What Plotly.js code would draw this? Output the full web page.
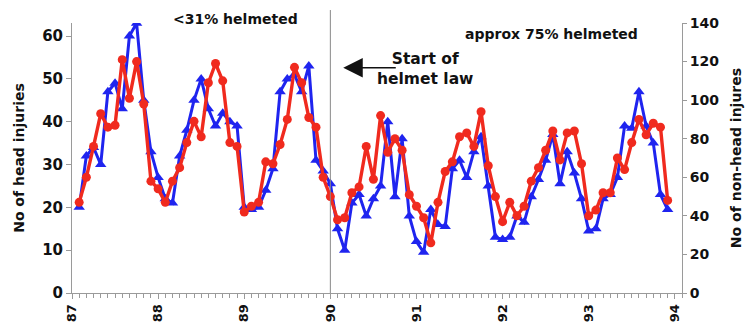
<!DOCTYPE html>
<html>
<head>
<meta charset="utf-8">
<script src="https://cdn.plot.ly/plotly-3.0.1.min.js"></script>
<style>
  html, body { margin: 0; padding: 0; background: #ffffff; }
  #chart { width: 750px; height: 327px; }
</style>
</head>
<body>
<div id="chart"></div>
<script>
// Month number counted from January 1987 (0 = start of 87)
const monthNumber = [1,2,3,4,5,6,7,8,9,10,11,12,13,14,15,16,17,18,19,20,21,22,23,24,25,26,27,28,29,30,
  31,32,33,34,35,36,37,38,39,40,41,42,43,44,45,46,47,48,49,50,51,52,53,54,55,56,57,58,59,60,
  61,62,63,64,65,66,67,68,69,70,71,72,73,74,75,76,77,78,79,80,81,82,83];

// Number of head injuries (left axis, blue triangles)
const headInjuries = [20,32,34,30,47,49,43,60,63,45,33,27,22,21,32,38,45,50,43,39,42,40,39,20,
  19.5,20,24,29,47,50,51,47,53,31,28.5,25.5,15,10,21,23,18,22,25,40,22.5,36,18,12,9.5,19.5,
  16,15.5,29,31,27,33,36.5,25,13,12.5,13,18,16.5,22.5,26.5,31,37,25.5,33,28,22,14.5,15,22,
  23,27,39,38.5,47,39,35,23,19.5];

// Number of non-head injuries (right axis, red circles)
const nonHeadInjuries = [47,60,76,93,86,87,121,101,120,98,58,54,47,58,65,78,89,81,109,119,110,78,76,42,
  45,47,68,67,77,90,117,109,91,86,60,50,38,39,52,55,76,59,92,73,80,74,51,45,39,26,
  47,63,68,81,83,76,94,66,50,37,47,40,45,58,65,74,84,69,83,84,67,40,43,52,52,70,64,78,
  90,82,88,86,48];

// Year tick labels
const yearTickPositions = [0,12,24,36,48,60,72,84];
const yearTickLabels = ['87','88','89','90','91','92','93','94'];
const helmetLawMonth = 36;

const leftTicks = [0,10,20,30,40,50,60];
const rightTicks = [0,20,40,60,80,100,120,140];

const FONT = 'DejaVu Sans, Liberation Sans, Arial, sans-serif';
const BLUE = '#1f24ef';
const RED = '#f02a1e';
const AXIS = '#9a9a9a';

const traces = [
  {
    x: monthNumber, y: headInjuries, type: 'scatter', mode: 'lines+markers',
    name: 'Head injuries', yaxis: 'y',
    line: {color: BLUE, width: 3},
    marker: {symbol: 'triangle-up', size: 10, color: BLUE},
    hoverinfo: 'skip'
  },
  {
    x: monthNumber, y: nonHeadInjuries, type: 'scatter', mode: 'lines+markers',
    name: 'Non-head injuries', yaxis: 'y2',
    line: {color: RED, width: 3.4},
    marker: {symbol: 'circle', size: 9, color: RED},
    hoverinfo: 'skip'
  }
];

const layout = {
  width: 750, height: 327,
  margin: {l: 72, r: 68, t: 23, b: 34, pad: 0},
  paper_bgcolor: '#ffffff', plot_bgcolor: '#ffffff',
  showlegend: false,
  font: {family: FONT, color: '#111111'},
  xaxis: {
    range: [0, 85], tickmode: 'array', tickvals: yearTickPositions, ticktext: yearTickLabels,
    tickangle: -90, ticks: 'outside', ticklen: 5, tickcolor: AXIS, tickwidth: 1,
    minor: {dtick: 1, tick0: 0, ticks: 'outside', ticklen: 4, tickcolor: AXIS, tickwidth: 1},
    showline: true, linecolor: AXIS, linewidth: 1, showgrid: false, zeroline: false,
    tickfont: {family: FONT, size: 13, weight: 'bold', color: '#111'}
  },
  yaxis: {
    range: [0, 63.05], tickmode: 'array', tickvals: leftTicks,
    ticks: 'outside', ticklen: 5, tickcolor: AXIS,
    showline: true, linecolor: AXIS, linewidth: 1, showgrid: false, zeroline: false,
    tickfont: {family: FONT, size: 15, weight: 'bold', color: '#111'},
    title: {text: 'No of head injuries', font: {family: FONT, size: 14, weight: 'bold', color: '#111'}, standoff: 14}
  },
  yaxis2: {
    range: [0, 140], tickmode: 'array', tickvals: rightTicks, overlaying: 'y', side: 'right',
    ticks: 'outside', ticklen: 4, tickcolor: AXIS,
    showline: true, linecolor: AXIS, linewidth: 1, showgrid: false, zeroline: false,
    tickfont: {family: FONT, size: 14, weight: 'bold', color: '#111'},
    title: {text: 'No of non-head injures', font: {family: FONT, size: 14, weight: 'bold', color: '#111'}, standoff: 12}
  },
  shapes: [
    {type: 'line', xref: 'x', yref: 'paper', x0: helmetLawMonth, x1: helmetLawMonth, y0: 0, y1: 1.048,
     line: {color: '#888888', width: 1}}
  ],
  annotations: [
    {text: '<31% helmeted', xref: 'x', yref: 'paper', x: 22.85, y: 1.015, showarrow: false,
     font: {family: FONT, size: 14, weight: 'bold', color: '#111'}, xanchor: 'center', yanchor: 'middle'},
    {text: 'approx 75% helmeted', xref: 'x', yref: 'paper', x: 66.75, y: 0.959, showarrow: false,
     font: {family: FONT, size: 14, weight: 'bold', color: '#111'}, xanchor: 'center', yanchor: 'middle'},
    {text: 'Start of<br>helmet law', xref: 'x', yref: 'paper', x: 49.2, y: 0.83, showarrow: false,
     font: {family: FONT, size: 15.5, weight: 'bold', color: '#111'}, xanchor: 'center', yanchor: 'middle'},
    {text: '', xref: 'x', yref: 'y', x: 37.8, y: 52.6, showarrow: true, ax: 54, ay: 0,
     arrowhead: 2, arrowsize: 3, arrowwidth: 1.3, arrowcolor: '#111', standoff: 0}
  ]
};

Plotly.newPlot('chart', traces, layout, {staticPlot: true, displayModeBar: false});
</script>
</body>
</html>
